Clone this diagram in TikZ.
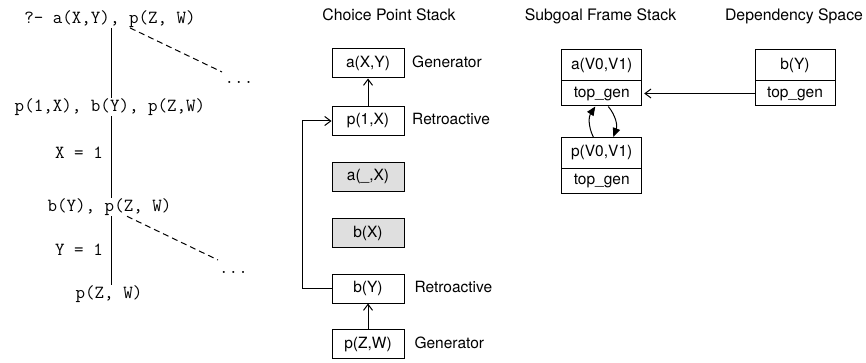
\documentclass[tikz,border=0pt]{standalone}
\usepackage{fontspec}
\newfontfamily\hv{TeX Gyre Heros}
\usetikzlibrary{arrows.meta}
\begin{document}
\begin{tikzpicture}[x=1pt,y=-1pt,line width=1pt,
  tree/.style={font=\ttfamily\fontsize{18.5}{20}\selectfont, inner sep=0pt, anchor=base},
  ttl/.style={font=\hv\fontsize{15.8}{18}\selectfont, inner sep=0pt, anchor=base},
  lbl/.style={font=\hv\fontsize{15.5}{18}\selectfont, inner sep=0pt, anchor=west, text height=11pt, text depth=3pt},
  cbox/.style={draw, minimum width=72pt, minimum height=29pt, inner sep=0pt, font=\hv\fontsize{15.5}{18}\selectfont, text height=11pt, text depth=3pt},
  gbox/.style={cbox, fill=gray!25},
  fbox/.style={draw, minimum width=80pt, inner sep=0pt, font=\hv\fontsize{15.5}{18}\selectfont, text height=11pt, text depth=3pt},
  openarrow/.style={-{Straight Barb[length=6pt,width=9pt]}},
  fillarrow/.style={-{Triangle[length=9pt,width=7.5pt]}},
  dashline/.style={dash pattern=on 6pt off 4pt}
]
\useasboundingbox (0,0) rectangle (866,363);

% ---- resolution tree ----
\node[tree] (t1) at (110,23.3) {?- a(X,Y), p(Z, W)};
\node[tree] (t2) at (110,111.7) {p(1,X), b(Y), p(Z,W)};
\node[tree] (x1) at (79,159) {X = 1};
\node[tree] (t3) at (109.5,211.7) {b(Y), p(Z, W)};
\node[tree] (y1) at (79,255) {Y = 1};
\node[tree] (t4) at (109,298) {p(Z, W)};
\node[tree] (d1) at (239,84) {...};
\node[tree] (d2) at (233.5,273) {...};
\coordinate (sp) at (111.7,0);
\coordinate (c1) at (130,0);
\coordinate (c2) at (127,0);
\coordinate (e1) at (222,72);
\coordinate (e2) at (218,260);
\draw (t1.south -| sp) -- (t2.north -| sp);
\draw (t2.south -| sp) -- (t3.north -| sp);
\draw (t3.south -| sp) -- (t4.north -| sp);
\draw[dashline] (t1.south -| c1) -- (e1);
\draw[dashline] (t3.south -| c2) -- (e2);

% ---- choice point stack ----
\node[ttl] (cps) at (389,21) {Choice Point Stack};
\node[cbox] (axy) at (368,63.5) {a(X,Y)};
\node[cbox] (p1x) at (368,121) {p(1,X)};
\node[gbox] (aux) at (368,177) {a(\_,X)};
\node[gbox] (bx) at (368,233) {b(X)};
\node[cbox] (by) at (368,288.5) {b(Y)};
\node[cbox] (pzw) at (368,344) {p(Z,W)};
\node[lbl] (l1) at (411.7,63.5) {Generator};
\node[lbl] (l2) at (411.7,121) {Retroactive};
\node[lbl] (l3) at (414,288.5) {Retroactive};
\node[lbl] (l4) at (414,344) {Generator};
\draw[openarrow] (p1x.north) -- (axy.south);
\draw[openarrow] (pzw.north) -- (by.south);
\draw[openarrow] (by.west) -- ++(-29,0) |- (p1x.west);

% ---- subgoal frame stack / dependency space ----
\node[ttl] (sfs) at (600.5,21) {Subgoal Frame Stack};
\node[ttl] (dsp) at (794,21) {Dependency Space};
\node[fbox, minimum height=31pt] (avt) at (601.7,65.5) {a(V0,V1)};
\node[fbox, minimum height=25pt] (avb) at (601.7,93.5) {top\_gen};
\node[fbox, minimum height=31pt] (bt) at (795,65.5) {b(Y)};
\node[fbox, minimum height=25pt] (bb) at (795,93.5) {top\_gen};
\node[fbox, minimum height=31pt] (pt) at (601.7,153) {p(V0,V1)};
\node[fbox, minimum height=25pt] (pb) at (601.7,181) {top\_gen};
\draw[openarrow] (bb.west) -- ([xshift=2pt]avb.east);
\draw[fillarrow] ([xshift=-8.4pt]pt.north) to[bend left=30] ([xshift=-6.4pt]avb.south);
\draw[fillarrow] ([xshift=6.6pt]avb.south) to[bend left=30] ([xshift=11.6pt]pt.north);
\end{tikzpicture}
\end{document}
